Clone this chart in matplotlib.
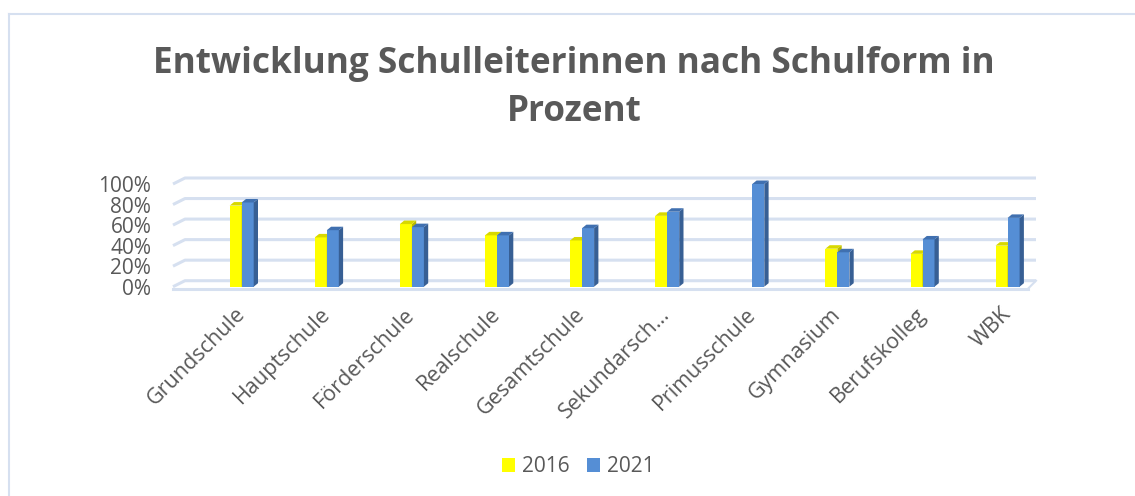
import matplotlib
matplotlib.use("Agg")
import matplotlib.pyplot as plt
from matplotlib.patches import Polygon
from matplotlib.lines import Line2D
import numpy as np

categories = ["Grundschule", "Hauptschule", "Förderschule", "Realschule", "Gesamtschule",
              "Sekundarsch…", "Primusschule", "Gymnasium", "Berufskolleg", "WBK"]
values_2016 = [0.79, 0.48, 0.61, 0.50, 0.45, 0.69, np.nan, 0.37, 0.32, 0.40]
values_2021 = [0.82, 0.55, 0.58, 0.50, 0.57, 0.73, 1.00, 0.335, 0.46, 0.67]
series_labels = ["2016", "2021"]
yticks = [0.0, 0.2, 0.4, 0.6, 0.8, 1.0]
ytick_labels = ["0%", "20%", "40%", "60%", "80%", "100%"]

TEXT = "#595959"
GRID = "#D6E0F0"
YEL, YEL_SIDE, YEL_TOP = "#FFFF00", "#B8B800", "#D8D800"
BLU, BLU_SIDE, BLU_TOP = "#558ED5", "#375F94", "#4070B0"

plt.rcParams['font.family'] = ['Open Sans', 'DejaVu Sans']

W, H = 1135, 496
fig = plt.figure(figsize=(W / 100, H / 100), dpi=100)

# pixel-based layout helpers
CAT_PX0, CAT_STEP = 241.7, 85.1     # category center px and spacing
ZERO_PX, UNIT_PX = 286.7, 102.7     # front-plane y of 0 and pixels per 100%
ax_l, ax_r, ax_t, ax_b = 168, 1042, 165, 296
ax = fig.add_axes([ax_l / W, 1 - ax_b / H, (ax_r - ax_l) / W, (ax_b - ax_t) / H])
ax.set_xlim((ax_l - CAT_PX0) / CAT_STEP, (ax_r - CAT_PX0) / CAT_STEP)
ax.set_ylim((ZERO_PX - ax_b) / UNIT_PX, (ZERO_PX - ax_t) / UNIT_PX)
for s in ax.spines.values():
    s.set_visible(False)

def px2x(px):
    return (px - CAT_PX0) / CAT_STEP

def dpx2y(d):
    return d / UNIT_PX

# back wall gridlines with slanted left wall edge
wall_dy = dpx2y(6.0)
xl_front, xl_back, xr_back = px2x(173), px2x(185), px2x(1036)
for v in yticks:
    ax.plot([xl_front, xl_back, xr_back], [v, v + wall_dy, v + wall_dy],
            color=GRID, lw=2.2, zorder=1, solid_capstyle='butt')
# floor front edge
floor_front = -dpx2y(2.0)
ax.plot([xl_front, px2x(1028)], [floor_front, floor_front], color=GRID, lw=2.2, zorder=1)
ax.plot([px2x(1028), xr_back], [floor_front, wall_dy], color=GRID, lw=1.5, zorder=1)

# 3D-looking bars
bw = 12 / CAT_STEP
ddx, ddy = 4.3 / CAT_STEP, dpx2y(3.5)
x = np.arange(len(categories))

def bar3d(xs, vals, face, side, top, offset, label):
    ax.bar(xs + offset, vals, width=bw, align='edge', color=face, zorder=3, label=label,
           linewidth=0)
    for xi, v in zip(xs + offset, vals):
        if np.isnan(v):
            continue
        ax.add_patch(Polygon([(xi + bw, 0), (xi + bw + ddx, ddy), (xi + bw + ddx, v + ddy),
                              (xi + bw, v)], closed=True, facecolor=side, edgecolor='none', zorder=3))
        ax.add_patch(Polygon([(xi, v), (xi + ddx, v + ddy), (xi + bw + ddx, v + ddy),
                              (xi + bw, v)], closed=True, facecolor=top, edgecolor='none', zorder=3))

bar3d(x, np.array(values_2016), YEL, YEL_SIDE, YEL_TOP, -bw, series_labels[0])
bar3d(x, np.array(values_2021), BLU, BLU_SIDE, BLU_TOP, 0.0, series_labels[1])

ax.set_yticks(yticks)
ax.set_yticklabels(ytick_labels, fontsize=15, color=TEXT)
ax.set_xticks(x)
ax.set_xticklabels(categories, fontsize=15.5, color=TEXT, rotation=45,
                   ha='right', va='center', rotation_mode='anchor')
ax.tick_params(axis='both', length=0)
ax.tick_params(axis='y', pad=12)
ax.tick_params(axis='x', pad=11)

# title
fig.text(574 / W, 1 - 64 / H, "Entwicklung Schulleiterinnen nach Schulform in",
         ha='center', va='center', fontsize=25.3, fontweight='bold', color=TEXT)
fig.text(574 / W, 1 - 112 / H, "Prozent",
         ha='center', va='center', fontsize=25.3, fontweight='bold', color=TEXT)

# legend
handles, labels = ax.get_legend_handles_labels()
fig.legend(handles, labels, loc='center', bbox_to_anchor=(578 / W, 1 - 467 / H),
           ncol=2, frameon=False, fontsize=15, labelcolor=TEXT,
           handlelength=0.65, handleheight=0.65, handletextpad=0.3, columnspacing=0.85)

# chart border (top and left)
fig.add_artist(Line2D([8.5 / W, 8.5 / W], [0, 1 - 14 / H], color=GRID, lw=1.5))
fig.add_artist(Line2D([8.5 / W, 1], [1 - 14 / H, 1 - 14 / H], color=GRID, lw=1.5))

fig.savefig("out.png", dpi=100, facecolor='white')
